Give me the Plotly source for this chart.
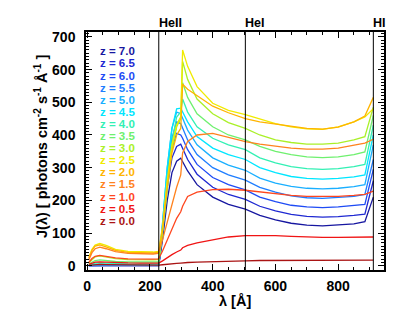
import plotly.graph_objects as go

lam = [5, 15, 25, 40, 60, 90, 130, 170, 210, 226, 228, 240, 255, 270, 285, 298, 304, 320, 350,
       400, 450, 504, 550, 600, 650, 700, 750, 800, 850, 885, 912]

z_labels = ["7.0", "6.5", "6.0", "5.5", "5.0", "4.5", "4.0", "3.5", "3.0", "2.5", "2.0", "1.5", "1.0", "0.5", "0.0"]

J_z70 = [0.3, 0.5, 0.7, 0.8, 0.7, 0.6, 0.5, 0.5, 0.5, 0.5, 0.5, 80, 200, 285, 320, 329, 318, 290, 248,
         210, 188, 173, 154, 140, 130, 124, 122, 124, 128, 135, 210]
J_z65 = [0.4, 0.7, 0.9, 1.0, 0.9, 0.8, 0.7, 0.7, 0.7, 0.7, 0.7, 100, 240, 330, 365, 372, 360, 325, 280,
         240, 218, 203, 182, 168, 157, 151, 149, 150, 154, 158, 260]
J_z60 = [0.5, 0.9, 1.1, 1.3, 1.2, 1.0, 0.9, 0.9, 0.9, 0.9, 1, 110, 260, 360, 405, 400, 390, 355, 310,
         270, 248, 232, 210, 196, 185, 180, 178, 180, 184, 188, 295]
J_z55 = [0.7, 1.2, 1.6, 1.8, 1.6, 1.4, 1.2, 1.2, 1.2, 1.2, 1.2, 120, 280, 390, 440, 435, 420, 385, 340,
         300, 278, 262, 240, 225, 214, 208, 206, 208, 212, 218, 325]
J_z50 = [1.0, 2.0, 2.7, 3.0, 2.7, 2.2, 1.8, 1.7, 1.7, 1.8, 1.8, 130, 300, 420, 470, 465, 450, 415, 370,
         330, 308, 292, 268, 253, 243, 237, 235, 237, 242, 248, 370]
J_z45 = [1.5, 3.2, 4.5, 5.0, 4.5, 3.6, 3.0, 2.9, 2.9, 3.0, 3, 130, 300, 420, 480, 482, 470, 440, 395,
         360, 340, 325, 300, 285, 273, 267, 265, 267, 272, 278, 400]
J_z40 = [3, 6, 8, 9, 8, 6.5, 5.5, 5.2, 5.2, 5.5, 5.5, 110, 260, 380, 455, 470, 510, 470, 425,
         390, 370, 355, 330, 315, 303, 297, 295, 297, 303, 310, 430]
J_z35 = [6, 12, 16, 18, 16, 13, 11.5, 11, 11, 11.5, 11.5, 100, 240, 360, 430, 455, 560, 515, 465,
         425, 400, 385, 365, 350, 340, 333, 331, 333, 340, 348, 460]
J_z30 = [10, 20, 27, 30, 27, 22, 19, 18, 18, 19, 19, 110, 250, 360, 425, 450, 625, 570, 510,
         465, 438, 420, 400, 385, 377, 372, 372, 375, 385, 395, 485]
J_z25 = [25, 50, 63, 68, 62, 50, 44, 42, 42, 44, 46, 120, 260, 370, 430, 455, 660, 610, 548,
         497, 475, 462, 448, 435, 425, 419, 417, 425, 440, 455, 480]
J_z20 = [22, 47, 60, 64, 58, 47, 41, 39, 39, 41, 43, 110, 240, 345, 400, 420, 555, 540, 520,
         488, 468, 450, 440, 433, 425, 420, 418, 424, 440, 458, 515]
J_z15 = [18, 40, 52, 57, 52, 43, 38, 36, 36, 38, 40, 80, 135, 190, 240, 278, 345, 380, 400,
         405, 392, 380, 372, 365, 360, 357, 357, 360, 368, 375, 387]
J_z10 = [10, 22, 29, 32, 29, 24, 21, 20, 20, 21, 22, 45, 80, 115, 145, 165, 182, 212, 225,
         233, 234, 231, 226, 220, 215, 212, 211, 212, 215, 218, 228]
J_z05 = [4, 8, 11, 12, 11, 9.5, 8.5, 8, 8, 8, 8, 15, 25, 34, 42, 48, 55, 62, 70,
         80, 88, 92, 93, 92, 90, 88, 87, 87, 87, 87, 88]
J_z00 = [1, 2.5, 3.5, 4, 3.5, 3, 2.6, 2.5, 2.4, 2.4, 2, 3, 5, 6, 7, 8, 9, 10, 11,
         13, 14, 15, 16, 16, 16, 16, 16, 16, 16, 16, 17]

series = [J_z70, J_z65, J_z60, J_z55, J_z50, J_z45, J_z40, J_z35, J_z30, J_z25, J_z20, J_z15, J_z10, J_z05, J_z00]

colors = ["rgb(22,22,160)", "rgb(30,40,210)", "rgb(30,75,245)", "rgb(30,125,255)", "rgb(25,175,255)",
          "rgb(0,230,255)", "rgb(50,240,180)", "rgb(110,240,110)", "rgb(170,240,40)", "rgb(240,235,0)",
          "rgb(255,180,0)", "rgb(255,130,30)", "rgb(255,70,30)", "rgb(240,20,20)", "rgb(170,20,20)"]

edges = [228, 504, 912]
edge_names = ["HeII", "HeI", "HI"]

x_range = [-4, 946]
y_range = [-13, 715]

fig = go.Figure()
for zl, ys, c in zip(z_labels, series, colors):
    fig.add_trace(go.Scatter(x=lam, y=ys, mode="lines", line=dict(color=c, width=1.3),
                             name="z = " + zl, showlegend=False))

for e in edges:
    fig.add_shape(type="line", x0=e, x1=e, y0=0, y1=1, xref="x", yref="paper",
                  line=dict(color="black", width=1))

font_b = "Liberation Sans, Arial, sans-serif"

for e, nm in zip(edges, edge_names):
    fig.add_annotation(x=e, y=1.0, xref="x", yref="paper", text="<b>%s</b>" % nm,
                       showarrow=False, xanchor="left", yanchor="bottom",
                       font=dict(family=font_b, size=12.5, color="black"), xshift=-2)

# legend as coloured text
for i, (zl, c) in enumerate(zip(z_labels, colors)):
    py = 43.3 + 12.1 * i
    fig.add_annotation(x=(91 - 78) / 298, y=(262 - py) / 238, xref="paper", yref="paper",
                       text="<b>z = %s</b>" % zl, showarrow=False, xanchor="left", yanchor="middle",
                       font=dict(family=font_b, size=11.5, color=c), borderpad=0)

fig.add_annotation(x=(33 - 78) / 298, y=(262 - 138) / 238, xref="paper", yref="paper",
                   text="<b>J(λ) [ photons cm<sup>-2</sup> s<sup>-1</sup> Å<sup>-1</sup> ]</b>",
                   textangle=-90, showarrow=False, xanchor="center", yanchor="middle",
                   font=dict(family=font_b, size=14.5, color="black"))
fig.add_annotation(x=(227 - 78) / 298, y=(262 - 293) / 238, xref="paper", yref="paper",
                   text="<b>λ [Å]</b>", showarrow=False, xanchor="center", yanchor="middle",
                   font=dict(family=font_b, size=14.5, color="black"))

axis_common = dict(showgrid=False, zeroline=False, showline=True, linecolor="black", linewidth=1.5,
                   mirror="allticks", ticks="inside", tickcolor="black", tickwidth=1,
                   tickfont=dict(family=font_b, size=14, color="black"))

fig.update_xaxes(range=x_range, tickvals=[0, 200, 400, 600, 800],
                 ticktext=["<b>0</b>", "<b>200</b>", "<b>400</b>", "<b>600</b>", "<b>800</b>"],
                 ticklen=6, ticklabelstandoff=2,
                 minor=dict(dtick=50, tick0=0, ticks="inside", ticklen=3, tickcolor="black"),
                 **axis_common)
fig.update_yaxes(range=y_range, tickvals=[0, 100, 200, 300, 400, 500, 600, 700],
                 ticktext=["<b>%d</b>" % v for v in [0, 100, 200, 300, 400, 500, 600, 700]],
                 ticklen=6, ticklabelstandoff=6,
                 minor=dict(dtick=10, tick0=0, ticks="inside", ticklen=3, tickcolor="black"),
                 **axis_common)

fig.update_layout(width=415, height=312, margin=dict(l=78, r=39, t=24, b=50),
                  paper_bgcolor="white", plot_bgcolor="white", showlegend=False)

fig.write_html("out.html")
